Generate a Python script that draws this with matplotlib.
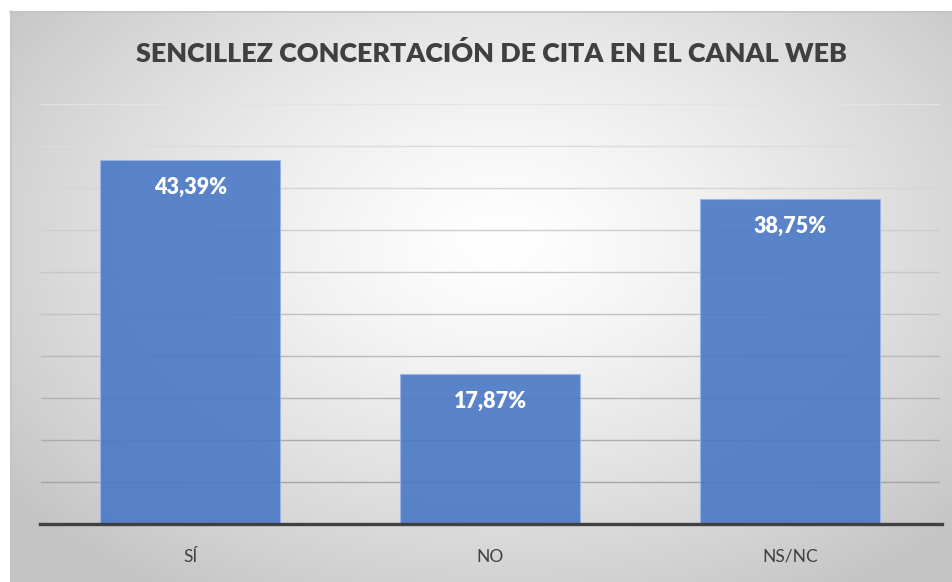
import numpy as np
import matplotlib
matplotlib.use('Agg')
import matplotlib.pyplot as plt

plt.rcParams['font.family'] = ['Lato', 'DejaVu Sans']

# datos
categorias = ['SÍ', 'NO', 'NS/NC']
porcentajes = [43.39, 17.87, 38.75]
etiquetas = ['43,39%', '17,87%', '38,75%']
titulo = 'SENCILLEZ CONCERTACIÓN DE CITA EN EL CANAL WEB'

W, H = 952, 582
fig = plt.figure(figsize=(W / 100, H / 100), dpi=100)
fig.patch.set_facecolor('white')

# fondo con degradado radial (area del grafico empieza en x=10, y=11)
bg = fig.add_axes([0, 0, 1, 1], zorder=0)
bg.set_xlim(0, W)
bg.set_ylim(H, 0)
bg.axis('off')
yy, xx = np.mgrid[0:H, 0:W]
d = np.sqrt(((xx - 500) / 620.0) ** 2 + ((yy - 240) / 420.0) ** 2)
d = np.clip(d, 0, 1)
val = 1.0 - 0.23 * d ** 1.3
img = np.dstack([val, val, val])
img[:11, :, :] = 1.0
img[:, :10, :] = 1.0
bg.imshow(img, extent=(0, W, H, 0), aspect='auto', interpolation='bilinear')
bg.plot([10, W], [11.5, 11.5], color='#c4c4c4', lw=1.2)
bg.plot([10.5, 10.5], [11, H], color='#c4c4c4', lw=1.2)

# titulo
bg.text(491, 54, titulo, ha='center', va='center', fontsize=19.4,
        fontweight='heavy', color='#404040')

# ejes del grafico
ax = fig.add_axes([40.5 / W, 58 / H, 900 / W, 420 / H], zorder=1)
ax.patch.set_alpha(0)
x = np.arange(len(categorias))
ax.set_xlim(-0.5, len(categorias) - 0.5)
ax.set_ylim(0, 50)

# lineas de cuadricula (mas claras arriba)
for yv in np.arange(5, 51, 5):
    g = 0.62 + 0.27 * (yv / 50.0)
    ax.axhline(yv, color=(g, g, g), lw=1.0, zorder=1)

ax.bar(x, porcentajes, width=0.6, color='#4a78c6', alpha=0.9,
       edgecolor='#9ab6e6', linewidth=0.8, zorder=2)

for xi, v, lab in zip(x, porcentajes, etiquetas):
    ax.annotate(lab, xy=(xi, v), xytext=(0, -20), textcoords='offset points',
                ha='center', va='center', fontsize=15.5, fontweight='heavy',
                color='white', zorder=4)

ax.axhline(0, xmin=-0.5 / 900, xmax=902 / 900, color='#404040', lw=2.4,
           zorder=3, clip_on=False)

ax.set_xticks(x)
ax.set_xticklabels(categorias, fontsize=12.5, color='#404040')
ax.tick_params(axis='x', length=0, pad=18)
ax.set_yticks([])
for s in ax.spines.values():
    s.set_visible(False)

fig.savefig('out.png', dpi=100, facecolor='white')
